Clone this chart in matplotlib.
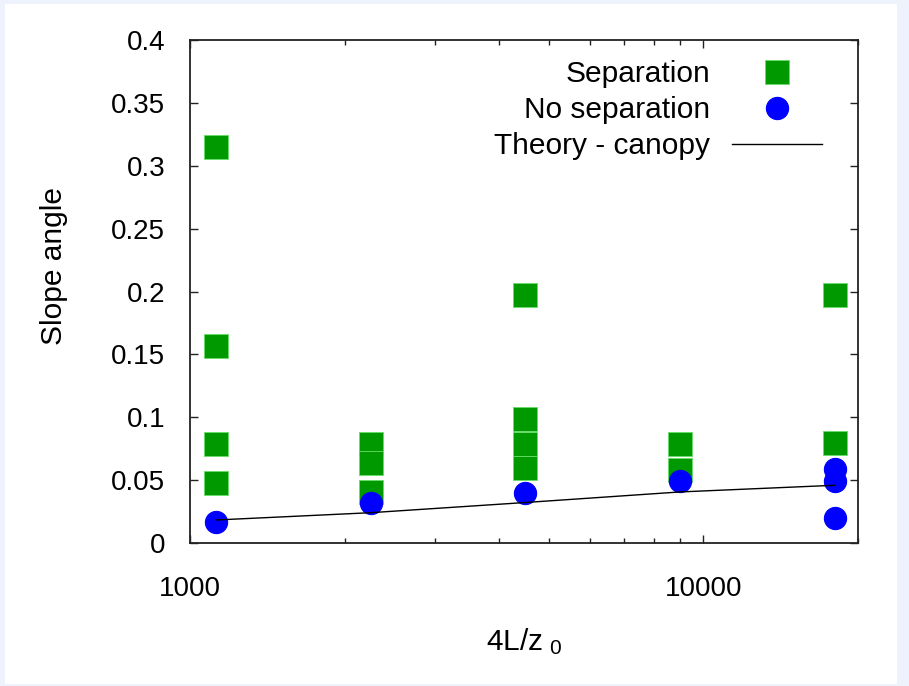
import matplotlib
matplotlib.use("Agg")
import matplotlib.pyplot as plt
from matplotlib.patches import Rectangle
from matplotlib.ticker import FixedLocator, NullFormatter

plt.rcParams['font.family'] = ['Liberation Sans', 'DejaVu Sans']
plt.rcParams['mathtext.default'] = 'regular'

# data
sep_x = [1125, 1125, 1125, 1125, 2250, 2250, 2250, 4500, 4500, 4500, 4500, 9000, 9000, 18000, 18000]
sep_y = [0.315, 0.157, 0.079, 0.048, 0.079, 0.0636, 0.0403, 0.197, 0.099, 0.079, 0.060, 0.0785, 0.0583, 0.197, 0.0795]

nosep_x = [1125, 2250, 4500, 9000, 18000, 18000, 18000]
nosep_y = [0.0165, 0.032, 0.040, 0.049, 0.059, 0.049, 0.020]

theory_x = [1125, 2250, 4500, 9000, 18000]
theory_y = [0.0183, 0.0241, 0.0322, 0.0406, 0.0459]

y_ticks = [0, 0.05, 0.1, 0.15, 0.2, 0.25, 0.3, 0.35, 0.4]
y_labels = ['0', '0.05', '0.1', '0.15', '0.2', '0.25', '0.3', '0.35', '0.4']

fig = plt.figure(figsize=(9.09, 6.86), dpi=100, facecolor='#eef2fc')
fig.patches.append(Rectangle((5 / 909, 2 / 686), 892 / 909, 680 / 686,
                             transform=fig.transFigure, facecolor='white',
                             edgecolor='none', zorder=-10))

ax = fig.add_axes([190 / 909, 1 - 543 / 686, 668 / 909, 503 / 686])
ax.set_facecolor('white')

ax.plot(sep_x, sep_y, linestyle='none', marker='s', markersize=17.3,
        markerfacecolor='#009900', markeredgecolor='#66dd66', markeredgewidth=0.6,
        label='Separation')
ax.plot(nosep_x, nosep_y, linestyle='none', marker='o', markersize=16,
        markerfacecolor='#0000ff', markeredgecolor='#0000ff', markeredgewidth=0.8,
        label='No separation')
ax.plot(theory_x, theory_y, color='black', linewidth=1.0, label='Theory - canopy')

ax.set_xscale('log')
ax.set_xlim(1000, 20000)
ax.set_ylim(0, 0.4)

ax.xaxis.set_major_locator(FixedLocator([1000, 10000]))
ax.set_xticklabels(['1000', '10000'])
ax.xaxis.set_minor_locator(FixedLocator([2000, 3000, 4000, 5000, 6000, 7000, 8000, 9000, 20000]))
ax.xaxis.set_minor_formatter(NullFormatter())
ax.set_yticks(y_ticks)
ax.set_yticklabels(y_labels)

ax.tick_params(which='both', direction='in', top=True, right=True, labelsize=20, width=1.0, color='#222222')
ax.tick_params(which='major', length=6)
ax.tick_params(which='minor', length=3.5)
ax.tick_params(axis='x', which='major', pad=24)
ax.tick_params(axis='y', which='major', pad=18)

for sp in ax.spines.values():
    sp.set_linewidth(1.3)
    sp.set_color('#222222')

ax.set_xlabel(r'4L/z$_{\ 0}$', fontsize=21.5)
ax.xaxis.set_label_coords(0.5, -0.165)
ax.set_ylabel('Slope angle', fontsize=21.5)
ax.yaxis.set_label_coords(-0.183, 0.551)

leg = ax.legend(loc='upper right', bbox_to_anchor=(632 / 668, 0.96), frameon=False,
                markerfirst=False, alignment='right', fontsize=21.5, borderpad=0,
                borderaxespad=0, handlelength=3.0, handletextpad=0.75, labelspacing=0.27,
                numpoints=1)

fig.savefig('out.png', dpi=100, facecolor=fig.get_facecolor())
